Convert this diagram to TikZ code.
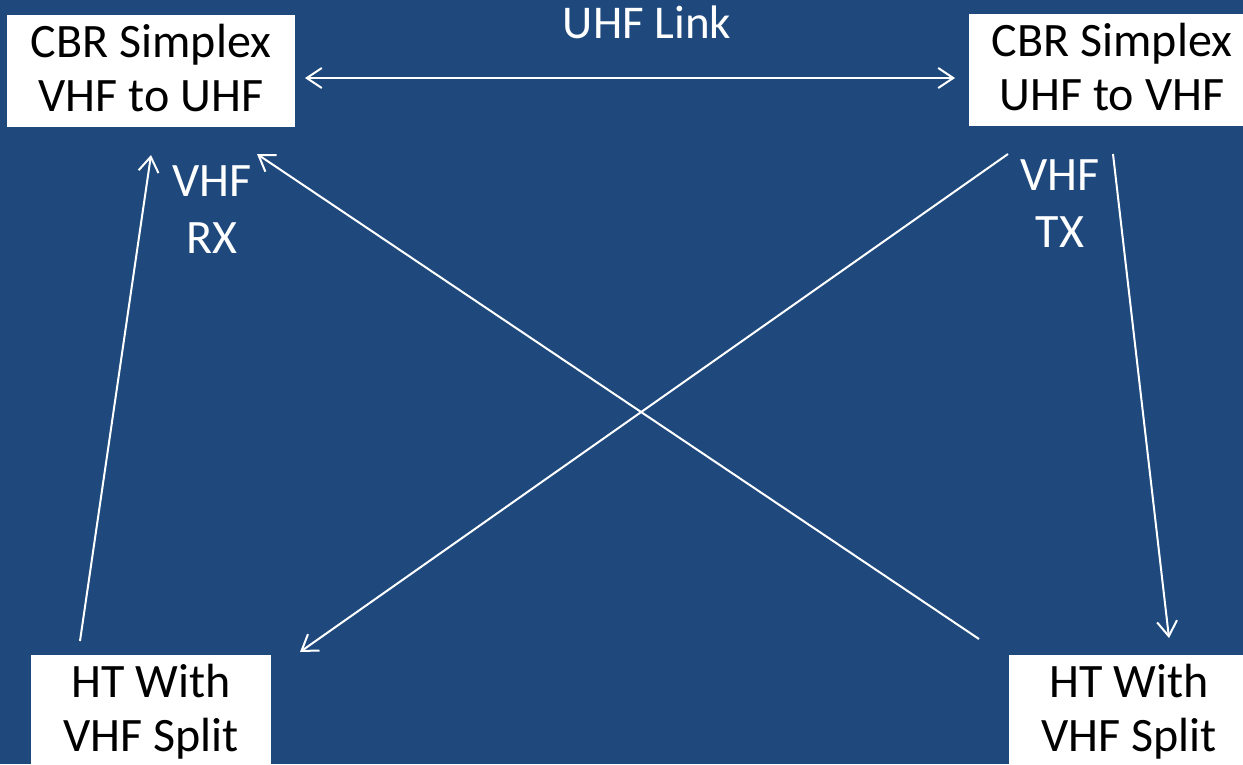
\documentclass[tikz,border=0pt]{standalone}
\usepackage{fontspec}
\setmainfont{Carlito}
\usetikzlibrary{arrows.meta}
\definecolor{bg}{HTML}{1F497D}
\begin{document}
\begin{tikzpicture}[x=1pt,y=-1pt,
  box/.style={fill=white, inner sep=0pt, align=center, text=black,
    font=\fontsize{48}{54}\selectfont, minimum height=112pt},
  lab/.style={text=white, inner sep=0pt, align=center,
    font=\fontsize{48}{57}\selectfont},
  conn/.style={draw=white, line width=2pt, -{Straight Barb[length=15pt,width=20pt]}}]
\useasboundingbox (0,0) rectangle (1243,764);
\fill[bg] (0,0) rectangle (1243,764);

\node[box, minimum width=288pt] (b1) at (151,71)
  {\rule{0pt}{41pt}CBR Simplex\\VHF to UHF\rule[-15pt]{0pt}{15pt}};
\node[box, minimum width=286pt] (b2) at (1112,70)
  {\rule{0pt}{41pt}CBR Simplex\\UHF to VHF\rule[-15pt]{0pt}{15pt}};
\node[box, minimum width=240pt] (b3) at (151,711)
  {\rule{0pt}{41pt}HT With\\VHF Split\rule[-15pt]{0pt}{15pt}};
\node[box, minimum width=240pt] (b4) at (1129,711)
  {\rule{0pt}{41pt}HT With\\VHF Split\rule[-15pt]{0pt}{15pt}};

\node[text=white, inner sep=0pt, anchor=base, font=\fontsize{47}{54}\selectfont] (uhf) at (647,38) {UHF Link};
\node[lab, anchor=north] (rx) at (212,155) {\rule{0pt}{41pt}VHF\\RX};
\node[lab, anchor=north] (tx) at (1060,149) {\rule{0pt}{41pt}VHF\\TX};

\coordinate (l1) at (305,78);
\coordinate (l2) at (955,78);
\coordinate (a1s) at (80,641);
\coordinate (a1e) at (151,155);
\coordinate (a2s) at (979,639);
\coordinate (a2e) at (257,154);
\coordinate (a3s) at (1008,154);
\coordinate (a3e) at (300,652);
\coordinate (a4s) at (1113,154);
\coordinate (a4e) at (1169,638);

\draw[conn, {Straight Barb[length=15pt,width=20pt]}-{Straight Barb[length=15pt,width=20pt]}] (l1) -- (l2);
\draw[conn] (a1s) -- (a1e);
\draw[conn] (a2s) -- (a2e);
\draw[conn] (a3s) -- (a3e);
\draw[conn] (a4s) -- (a4e);
\end{tikzpicture}
\end{document}
